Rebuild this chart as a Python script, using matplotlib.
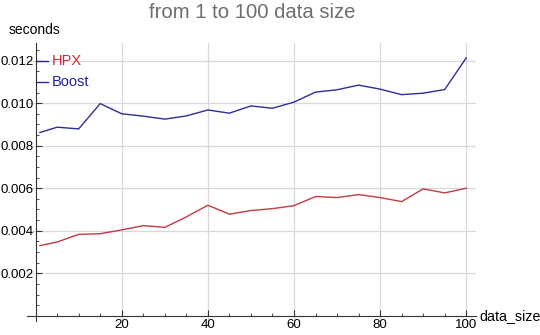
import matplotlib
matplotlib.use("Agg")
import matplotlib.pyplot as plt
from matplotlib.ticker import MultipleLocator, FuncFormatter

plt.rcParams['font.family'] = ['Liberation Sans', 'DejaVu Sans']

data_size = [1, 5, 10, 15, 20, 25, 30, 35, 40, 45, 50, 55, 60, 65, 70, 75, 80, 85, 90, 95, 100]
boost = [0.00862, 0.00887, 0.00879, 0.00998, 0.00950, 0.00939, 0.00925, 0.00940, 0.00968, 0.00953,
         0.00987, 0.00976, 0.01005, 0.01052, 0.01063, 0.01085, 0.01066, 0.01040, 0.01047, 0.01064, 0.01213]
hpx = [0.00330, 0.00347, 0.00383, 0.00386, 0.00404, 0.00424, 0.00416, 0.00465, 0.00520, 0.00478,
       0.00495, 0.00504, 0.00518, 0.00561, 0.00556, 0.00570, 0.00556, 0.00537, 0.00597, 0.00578, 0.00600]

boost_color = '#2e2e96'
hpx_color = '#c23a45'

fig = plt.figure(figsize=(5.4, 3.35), dpi=100)
ax = fig.add_axes([27/540, 1 - 321/335, (475.7 - 27)/540, (321 - 43)/335])

ax.plot(data_size, boost, color=boost_color, lw=1.0, zorder=3)
ax.plot(data_size, hpx, color=hpx_color, lw=1.0, zorder=3)

ax.set_xlim(-2.0, 102.2)
ax.set_ylim(-0.000245, 0.01283)

for s in ['top', 'right']:
    ax.spines[s].set_visible(False)
ax.spines['left'].set_position(('data', 0))
ax.spines['bottom'].set_position(('data', 0))
for s in ['left', 'bottom']:
    ax.spines[s].set_color('#333333')
    ax.spines[s].set_linewidth(0.8)

ax.xaxis.set_minor_locator(MultipleLocator(5))
ax.yaxis.set_minor_locator(MultipleLocator(0.0005))
ax.set_xticks([20, 40, 60, 80, 100])
ax.set_yticks([0.002, 0.004, 0.006, 0.008, 0.010, 0.012])
ax.yaxis.set_major_formatter(FuncFormatter(lambda v, p: f"{v:.3f}"))

ax.tick_params(axis='both', which='major', direction='in', length=4, width=0.8,
               color='#333333', labelsize=9.5, labelcolor='black', pad=1.5)
ax.tick_params(axis='x', which='major', pad=2.5)
ax.tick_params(axis='both', which='minor', direction='in', length=2.5, width=0.6, color='#333333')

ax.grid(True, which='major', color='#d8d8d8', lw=0.9, zorder=0)
ax.set_axisbelow(True)

# legend-like labels
ax.plot([0, 2.8], [0.0120, 0.0120], color=boost_color, lw=1.0, clip_on=False)
ax.plot([0, 2.8], [0.0110, 0.0110], color=boost_color, lw=1.0, clip_on=False)
ax.text(3.8, 0.0120, 'HPX', color='#cc2a33', fontsize=10.5, va='center', ha='left')
ax.text(3.8, 0.0110, 'Boost', color='#22229a', fontsize=10.5, va='center', ha='left')

fig.text(9/540, 1 - 30/335, 'seconds', fontsize=10, va='center', ha='left', color='black')
fig.text(479/540, 1 - 316/335, 'data_size', fontsize=10.3, va='center', ha='left', color='black')
fig.text(252/540, 1 - 12/335, 'from 1 to 100 data size', fontsize=14.6, va='center', ha='center',
         color='#6e6e6e')

fig.savefig('out.png', dpi=100)
